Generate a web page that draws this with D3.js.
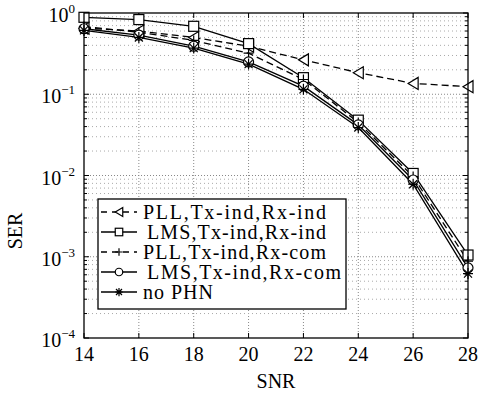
<!DOCTYPE html>
<html><head><meta charset="utf-8">
<script src="https://cdn.jsdelivr.net/npm/d3@7"></script>
<style>body{margin:0;background:#fff}svg{display:block}svg text{font-family:"Liberation Serif",serif}</style>
</head><body><svg id="c" width="486" height="397"></svg>
<script>
const snr = [14,16,18,20,22,24,26,28];
const pllInd = [0.65,0.60,0.50,0.39,0.265,0.184,0.136,0.124];
const lmsInd = [0.885,0.83,0.686,0.42,0.16,0.048,0.0106,0.00105];
const pllCom = [0.68,0.58,0.46,0.32,0.152,0.045,0.0097,0.00088];
const lmsCom = [0.64,0.535,0.39,0.25,0.126,0.042,0.0088,0.00073];
const noPhn = [0.61,0.50,0.37,0.235,0.115,0.039,0.0078,0.00062];
const xTicks = [14,16,18,20,22,24,26,28];
const yExps = [0,-1,-2,-3,-4];
const names = ["PLL,Tx-ind,Rx-ind","LMS,Tx-ind,Rx-ind","PLL,Tx-ind,Rx-com","LMS,Tx-ind,Rx-com","no PHN"];

const series = [
  {name:names[0], v:pllInd, dash:"7,4", mk:"tri"},
  {name:names[1], v:lmsInd, dash:null, mk:"sq"},
  {name:names[2], v:pllCom, dash:"7,4", mk:"plus"},
  {name:names[3], v:lmsCom, dash:null, mk:"circ"},
  {name:names[4], v:noPhn, dash:null, mk:"star"}
];

const L=84,R=468,T=13,B=338;
const svg=d3.select("#c");
const x=d3.scaleLinear().domain([14,28]).range([L,R]);
const y=d3.scaleLog().domain([1e-4,1]).range([B,T]);

// grid
const g=svg.append("g");
xTicks.slice(1,-1).forEach(t=>{
  g.append("line").attr("x1",x(t)).attr("x2",x(t)).attr("y1",T).attr("y2",B)
   .attr("stroke","#888").attr("stroke-width",1).attr("stroke-dasharray","1,2");
});
const minors=[];
for(let e=-4;e<0;e++){for(let m=2;m<=9;m++)minors.push(m*Math.pow(10,e));}
minors.forEach(v=>{
  g.append("line").attr("x1",L).attr("x2",R).attr("y1",y(v)).attr("y2",y(v))
   .attr("stroke","#aaa").attr("stroke-width",1).attr("stroke-dasharray","1,3");
});
yExps.slice(1,-1).forEach(e=>{
  g.append("line").attr("x1",L).attr("x2",R).attr("y1",y(Math.pow(10,e))).attr("y2",y(Math.pow(10,e)))
   .attr("stroke","#888").attr("stroke-width",1).attr("stroke-dasharray","1,2");
});

// axes ticks
const ax=svg.append("g");
xTicks.forEach(t=>{
  ax.append("line").attr("x1",x(t)).attr("x2",x(t)).attr("y1",B).attr("y2",B-5).attr("stroke","#000");
  ax.append("line").attr("x1",x(t)).attr("x2",x(t)).attr("y1",T).attr("y2",T+5).attr("stroke","#000");
  ax.append("text").attr("x",x(t)).attr("y",B+23).attr("text-anchor","middle").attr("font-size",20).text(t);
});
yExps.forEach(e=>{
  const yy=y(Math.pow(10,e));
  ax.append("line").attr("x1",L).attr("x2",L+5).attr("y1",yy).attr("y2",yy).attr("stroke","#000");
  ax.append("line").attr("x1",R).attr("x2",R-5).attr("y1",yy).attr("y2",yy).attr("stroke","#000");
  const t=ax.append("text").attr("x",L-9).attr("y",yy+9).attr("text-anchor","end").attr("font-size",20);
  t.append("tspan").text("10");
  t.append("tspan").attr("dy",-9).attr("font-size",13).text(e===0?"0":"\u2212"+(-e));
});
minors.forEach(v=>{
  const yy=y(v);
  ax.append("line").attr("x1",L).attr("x2",L+3).attr("y1",yy).attr("y2",yy).attr("stroke","#000");
  ax.append("line").attr("x1",R).attr("x2",R-3).attr("y1",yy).attr("y2",yy).attr("stroke","#000");
});

function marker(sel,type,cx,cy,k){
  k=k||1;
  const s=sel.append("g").attr("transform",`translate(${cx},${cy}) scale(${k})`).attr("fill","none").attr("stroke","#000").attr("stroke-width",1.2/k);
  if(type==="tri") s.append("path").attr("d","M-5,0L5,-6L5,6Z").attr("fill","#fff");
  else if(type==="sq") s.append("rect").attr("x",-5).attr("y",-5).attr("width",10).attr("height",10).attr("fill","#fff");
  else if(type==="circ") s.append("circle").attr("r",5).attr("fill","#fff");
  else if(type==="plus") s.append("path").attr("d","M-5,0H5M0,-5V5");
  else if(type==="star") s.append("path").attr("d","M-5,0H5M0,-5.5V5.5M-4,-4L4,4M-4,4L4,-4");
}

const line=d3.line().x((d,i)=>x(snr[i])).y(d=>y(d));
const pl=svg.append("g");
series.forEach(s=>{
  pl.append("path").attr("d",line(s.v)).attr("fill","none").attr("stroke","#000")
    .attr("stroke-width",1.3).attr("stroke-dasharray",s.dash);
});
series.forEach(s=>{
  s.v.forEach((v,i)=>marker(pl,s.mk,x(snr[i]),y(v)));
});

// frame
svg.append("rect").attr("x",L).attr("y",T).attr("width",R-L).attr("height",B-T)
  .attr("fill","none").attr("stroke","#000").attr("stroke-width",1.3);

// legend
const lg=svg.append("g");
lg.append("rect").attr("x",98).attr("y",199).attr("width",248).attr("height",110)
  .attr("fill","#fff").attr("stroke","#000").attr("stroke-width",1.3);
series.forEach((s,i)=>{
  const yy=212+i*20;
  lg.append("line").attr("x1",101).attr("x2",137).attr("y1",yy).attr("y2",yy)
    .attr("stroke","#000").attr("stroke-width",1.3).attr("stroke-dasharray",s.dash?"6,5":null);
  marker(lg,s.mk,119,yy,0.75);
  const x0=s.name.startsWith("LMS")?147:143;
  const t=lg.append("text").attr("x",x0).attr("y",yy+7).attr("font-size",20).text(s.name);
  const target={0:326,1:326,2:326,3:341,4:213}[i];
  t.attr("textLength",target-x0).attr("lengthAdjust","spacing");
});

svg.append("text").attr("x",276).attr("y",388).attr("text-anchor","middle").attr("font-size",20).text("SNR");
svg.append("text").attr("transform","translate(22,231) rotate(-90)").attr("text-anchor","middle").attr("font-size",20).text("SER");
</script></body></html>
